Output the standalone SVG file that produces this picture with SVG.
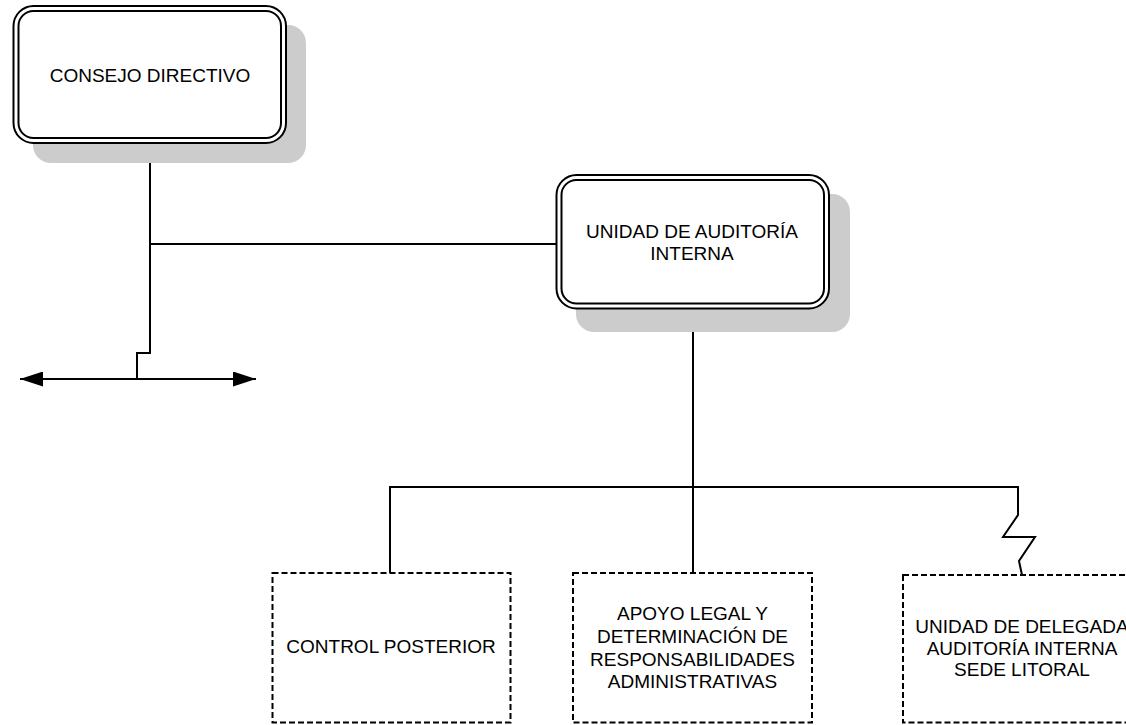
<svg xmlns="http://www.w3.org/2000/svg" width="1126" height="725" viewBox="0 0 1126 725">
  <style>
    .shadow { fill: #cccccc; stroke: none; }
    .outer { fill: #ffffff; stroke: #000000; stroke-width: 2; }
    .inner { fill: #ffffff; stroke: #000000; stroke-width: 2; }
    .dashed { fill: #ffffff; stroke: #000000; stroke-width: 2; stroke-dasharray: 6 3; }
    .lbl { font-family: "Liberation Sans", Arial, sans-serif; font-size: 19px; fill: #000000; text-anchor: middle; }
    .conn { fill: none; stroke: #000000; stroke-width: 2; }
  </style>
  <defs>
    <marker id="arrow" viewBox="0 0 23 15" refX="23" refY="7.5" markerWidth="23" markerHeight="15" markerUnits="userSpaceOnUse" orient="auto-start-reverse">
      <path d="M0,0 L23,7.5 L0,15 z" fill="#000000"/>
    </marker>
  </defs>
  <rect width="1126" height="725" fill="#ffffff"/>

  <g id="connectors">
    <path class="conn" d="M150,143 V353 H137 V379"/>
    <path class="conn" d="M150,244 H556"/>
    <path class="conn" d="M20,379 H256" marker-start="url(#arrow)" marker-end="url(#arrow)"/>
    <path class="conn" d="M693,308 V573"/>
    <path class="conn" d="M390,573 V487 H1018 V515 L1003,537 H1035 L1019,561 L1022,575"/>
  </g>

  <g id="consejo-directivo">
    <rect class="shadow" x="33" y="25" width="273" height="138" rx="18"/>
    <rect class="outer" x="13.5" y="6" width="272.5" height="137" rx="20"/>
    <rect class="inner" x="18.5" y="11" width="262.5" height="127" rx="15"/>
    <text class="lbl" x="150" y="82">CONSEJO DIRECTIVO</text>
  </g>

  <g id="unidad-auditoria-interna">
    <rect class="shadow" x="576" y="194" width="274" height="138" rx="18"/>
    <rect class="outer" x="556.5" y="175" width="272.5" height="133.5" rx="20"/>
    <rect class="inner" x="561.5" y="180" width="262.5" height="123.5" rx="15"/>
    <text class="lbl" x="692" y="238">UNIDAD DE AUDITORÍA</text>
    <text class="lbl" x="692" y="260">INTERNA</text>
  </g>

  <g id="control-posterior">
    <rect class="dashed" x="272.5" y="573" width="238" height="149.5"/>
    <text class="lbl" x="391" y="653">CONTROL POSTERIOR</text>
  </g>

  <g id="apoyo-legal">
    <rect class="dashed" x="573" y="573" width="239" height="149.5"/>
    <text class="lbl" x="692.5" y="620">APOYO LEGAL Y</text>
    <text class="lbl" x="692.5" y="643">DETERMINACIÓN DE</text>
    <text class="lbl" x="692.5" y="666">RESPONSABILIDADES</text>
    <text class="lbl" x="692.5" y="688">ADMINISTRATIVAS</text>
  </g>

  <g id="unidad-delegada">
    <rect class="dashed" x="903" y="575" width="238" height="147.5"/>
    <text class="lbl" x="1022" y="633">UNIDAD DE DELEGADA</text>
    <text class="lbl" x="1022" y="655">AUDITORÍA INTERNA</text>
    <text class="lbl" x="1022" y="676">SEDE LITORAL</text>
  </g>
</svg>
